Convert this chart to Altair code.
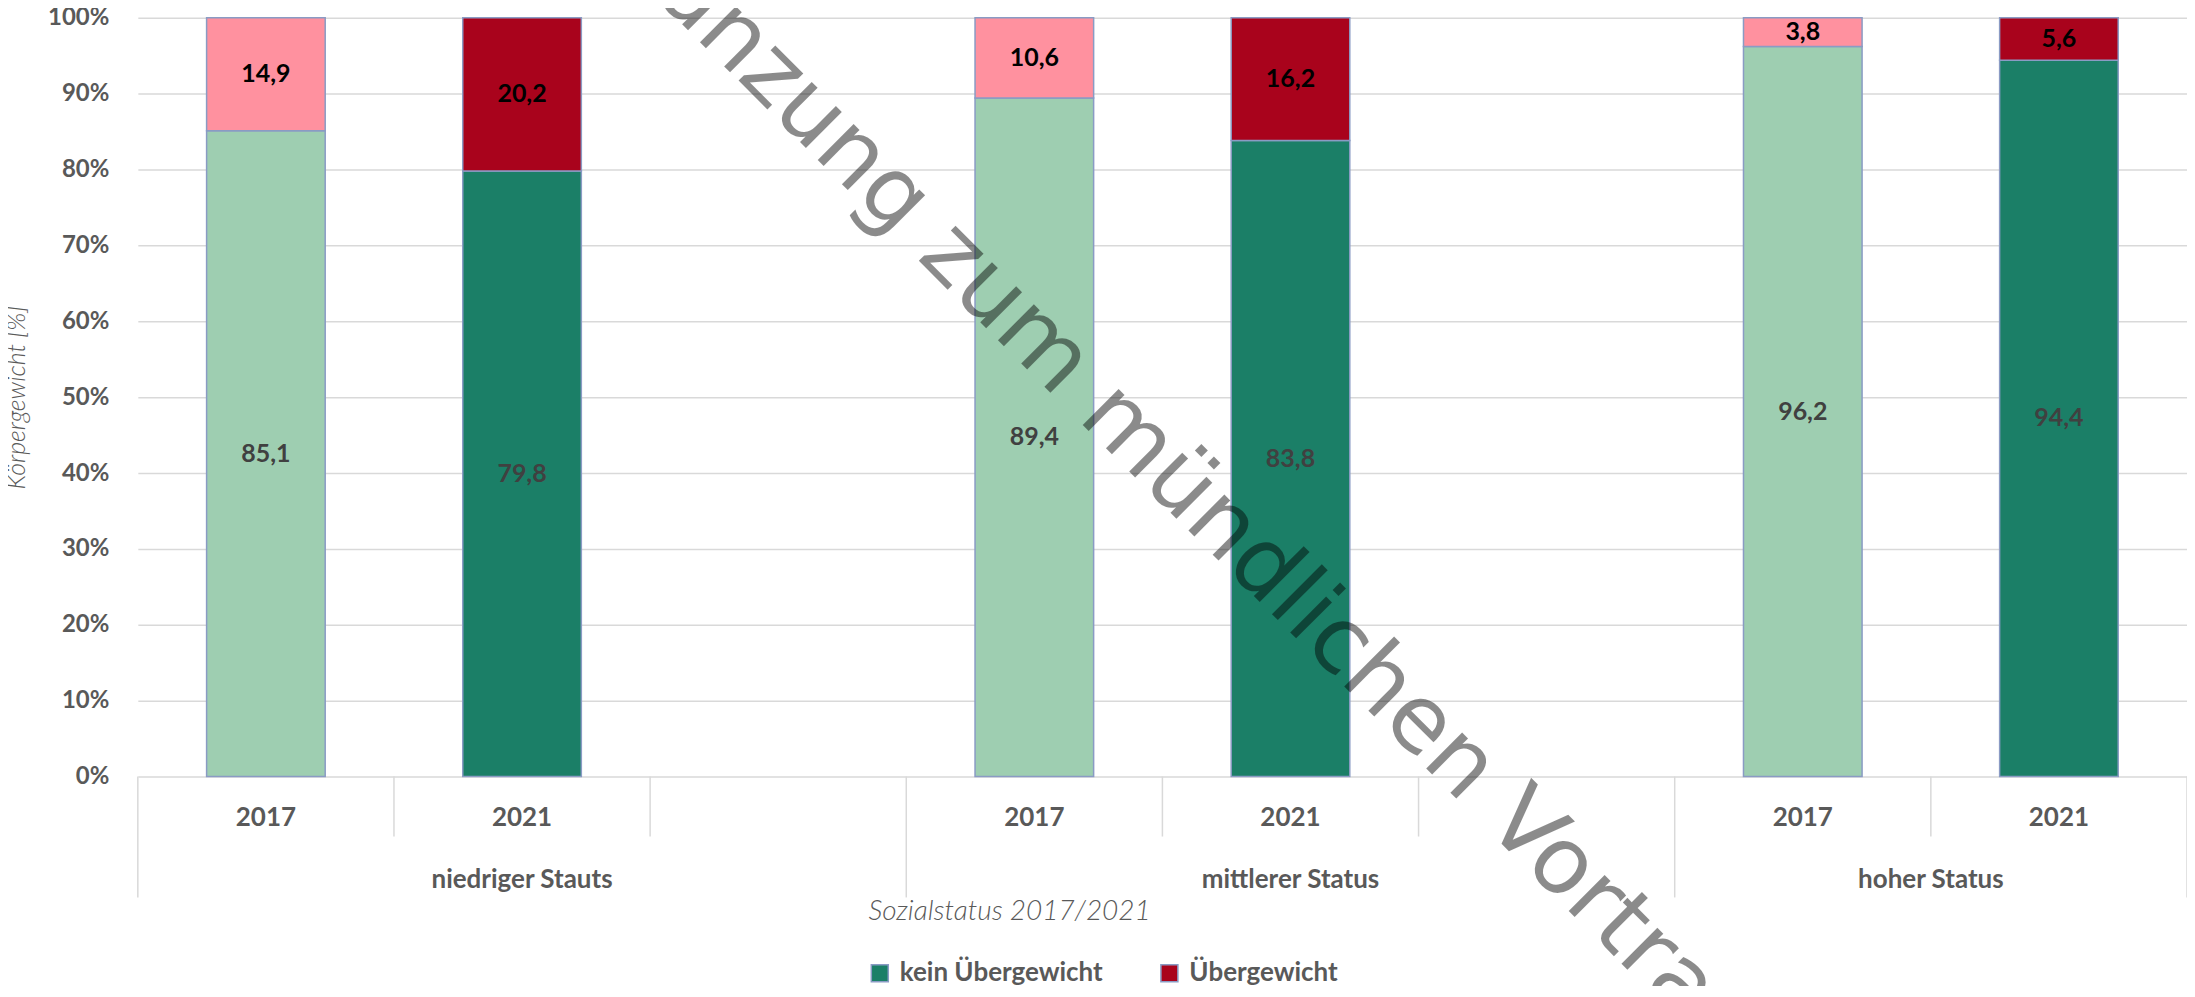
import altair as alt
import pandas as pd

# ---------------- data ----------------
groups = ["niedriger Stauts", "mittlerer Status", "hoher Status"]
years = ["2017", "2021"]
series = ["kein Übergewicht", "Übergewicht"]
kein = [85.1, 79.8, 89.4, 83.8, 96.2, 94.4]
ueber = [14.9, 20.2, 10.6, 16.2, 3.8, 5.6]
colors_2017 = ["#9ECEB1", "#FF919F"]
colors_2021 = ["#1B7F67", "#A9031C"]
y_ticks = [0, 10, 20, 30, 40, 50, 60, 70, 80, 90, 100]
y_title = "Körpergewicht [%]"
x_title = "Sozialstatus 2017/2021"
watermark = "Ergänzung zum mündlichen Vortrag"

# ---------------- layout ----------------
W, H = 2052, 760
SLOTS_PER_GROUP = 3
n_slots = SLOTS_PER_GROUP * (len(groups) - 1) + len(years)
HALF_BAR = 0.2315
GRAY = "#595959"
FONT = "Lato"

rows = []
for gi, g in enumerate(groups):
    for yi, yr in enumerate(years):
        idx = gi * len(years) + yi
        slot = gi * SLOTS_PER_GROUP + yi
        for si, (s, v) in enumerate(zip(series, [kein[idx], ueber[idx]])):
            rows.append(dict(group=g, year=yr, series=s, order=si, value=v,
                             slot=slot, key=f"{s}|{yr}"))
df = pd.DataFrame(rows)

year_df = df.drop_duplicates("slot")[["slot", "year"]].assign(xc=lambda d: d.slot + 0.5)
grp_df = pd.DataFrame({
    "group": groups,
    "xc": [(gi * SLOTS_PER_GROUP + min(gi * SLOTS_PER_GROUP + SLOTS_PER_GROUP, n_slots)) / 2
           for gi in range(len(groups))],
})
bounds = list(range(n_slots + 1))
div_df = pd.DataFrame({
    "b": bounds,
    "long": [(b % SLOTS_PER_GROUP == 0) or (b == n_slots) for b in bounds],
})

keys = [f"{s}|{y}" for y in years for s in series]
key_colors = colors_2017 + colors_2021

xscale = alt.Scale(domain=[0, n_slots], nice=False, zero=False)
yscale = alt.Scale(domain=[0, 100], nice=False)

base = alt.Chart(df).transform_stack(
    stack="value", groupby=["slot"], sort=[alt.SortField("order")], as_=["y0", "y1"]
).transform_calculate(
    xc="datum.slot + 0.5",
    xs=f"datum.slot + 0.5 - {HALF_BAR}",
    xe=f"datum.slot + 0.5 + {HALF_BAR}",
    ym="(datum.y0 + datum.y1) / 2",
    label="replace(format(datum.value, '.1f'), '.', ',')",
)

yaxis = alt.Axis(
    values=y_ticks, labelExpr="datum.value + '%'", grid=True, gridColor="#D9D9D9",
    gridWidth=1.5, domain=False, ticks=False, labelFont=FONT, labelFontWeight="bold",
    labelFontSize=24, labelColor=GRAY, labelPadding=29, title=y_title, titleFont=FONT,
    titleFontStyle="italic", titleFontWeight=300, titleFontSize=25, titleColor=GRAY,
    titleX=-121, titleY=H / 2, titleAngle=270, titleAlign="center", titleBaseline="middle",
)

bars = base.mark_bar(stroke="#8A9BC4", strokeWidth=1.5).encode(
    x=alt.X("xs:Q", scale=xscale, axis=None),
    x2="xe:Q",
    y=alt.Y("y0:Q", scale=yscale, axis=yaxis),
    y2="y1:Q",
    fill=alt.Fill(
        "key:N",
        scale=alt.Scale(domain=keys, range=key_colors),
        legend=alt.Legend(
            values=[f"{s}|{years[-1]}" for s in series],
            labelExpr="split(datum.label, '|')[0]",
            orient="none", legendX=730, legendY=944, direction="horizontal",
            columns=2, columnPadding=53, title=None, symbolType="square",
            symbolSize=289, symbolStrokeColor="#8A9BC4", symbolStrokeWidth=1.5,
            symbolOpacity=1, labelFont=FONT, labelFontSize=26, labelFontWeight="bold",
            labelColor=GRAY, labelOffset=7, labelLimit=0,
        ),
    ),
)

labels = base.mark_text(font=FONT, fontWeight="bold", fontSize=25, baseline="middle").encode(
    x=alt.X("xc:Q", scale=xscale, axis=None),
    y=alt.Y("ym:Q", scale=yscale),
    text="label:N",
    color=alt.condition(alt.datum.series == series[1], alt.value("#000000"), alt.value("#404040")),
)

div_short = alt.Chart(div_df).transform_filter("!datum.long").mark_rule(
    color="#D9D9D9", strokeWidth=1.5
).encode(x=alt.X("b:Q", scale=xscale, axis=None), y=alt.value(H), y2=alt.value(H + 60))

div_long = alt.Chart(div_df).transform_filter("datum.long").mark_rule(
    color="#D9D9D9", strokeWidth=1.5
).encode(x=alt.X("b:Q", scale=xscale, axis=None), y=alt.value(H), y2=alt.value(H + 121))

year_text = alt.Chart(year_df).mark_text(
    font=FONT, fontWeight="bold", fontSize=26, color=GRAY, baseline="middle"
).encode(x=alt.X("xc:Q", scale=xscale, axis=None), y=alt.value(H + 41), text="year:N")

grp_text = alt.Chart(grp_df).mark_text(
    font=FONT, fontWeight="bold", fontSize=26, color=GRAY, baseline="middle"
).encode(x=alt.X("xc:Q", scale=xscale, axis=None), y=alt.value(H + 104), text="group:N")

xtitle = alt.Chart(pd.DataFrame({"t": [x_title]})).mark_text(
    font=FONT, fontStyle="italic", fontWeight=300, fontSize=28, color=GRAY, baseline="middle"
).encode(x=alt.value(873), y=alt.value(H + 136), text="t:N")

wm = alt.Chart(pd.DataFrame({"t": [watermark]})).mark_text(
    font="DejaVu Sans", fontSize=93, color="#000000", opacity=0.45, angle=45,
    align="center", baseline="middle"
).encode(x=alt.value(1018), y=alt.value(440), text="t:N")

chart = alt.layer(
    div_short, div_long, bars, labels, year_text, grp_text, xtitle, wm
).properties(
    width=W, height=H,
    autosize=alt.AutoSizeParams(type="none"),
    padding={"left": 130, "top": 9, "right": 0, "bottom": 209},
).configure_view(stroke=None)

chart.save("out.html", embed_options={"renderer": "svg", "actions": False})
